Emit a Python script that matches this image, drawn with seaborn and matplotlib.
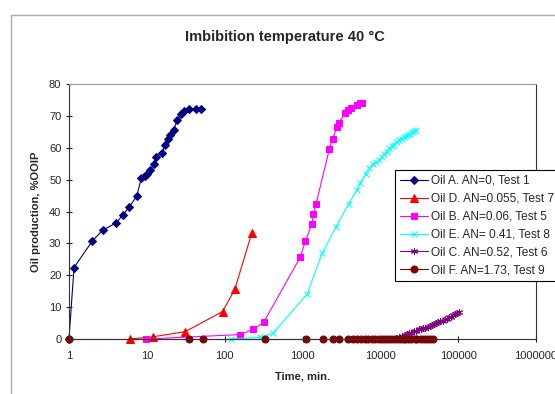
import numpy as np
import pandas as pd
import matplotlib
matplotlib.use("Agg")
import matplotlib.pyplot as plt
import matplotlib.patches as mpatches
import seaborn as sns

title = "Imbibition temperature 40 °C"
xlabel = "Time, min."
ylabel = "Oil production, %OOIP"

labels = ["Oil A. AN=0, Test 1", "Oil D. AN=0.055, Test 7", "Oil B. AN=0.06, Test 5",
          "Oil E. AN= 0.41, Test 8", "Oil C. AN=0.52, Test 6", "Oil F. AN=1.73, Test 9"]

a_t = [1, 1.16, 2.0, 2.7, 4.0, 4.9, 5.9, 7.4, 8.5, 9.4, 10.1, 10.9, 12.4, 13.3, 15.6, 17.2,
       18.8, 20.1, 22.2, 24.5, 27.5, 30.4, 35.3, 43.4, 50]
a_y = [0, 22.4, 30.8, 34.1, 36.4, 38.8, 41.3, 44.8, 50.4, 51.1, 51.9, 52.9, 54.9, 57.1, 58.5,
       61.0, 62.6, 63.9, 65.7, 68.7, 70.5, 71.6, 72.1, 72.3, 72.3]

d_t = [6.0, 12.1, 31, 94, 135, 222]
d_y = [0, 0.7, 2.3, 8.6, 15.6, 33.1]

b_t = [9.9, 159, 231, 316, 933, 1092, 1318, 1384, 1497, 2218, 2448, 2754, 2924, 3558, 3855,
       4170, 4977, 5500, 5820]
b_y = [0, 1.4, 3.0, 5.2, 25.6, 30.8, 36.1, 39.2, 42.5, 59.7, 62.9, 66.4, 67.9, 70.8, 71.8,
       72.4, 73.4, 73.9, 73.9]

e_t = [119, 281, 417, 1148, 1786, 2705, 3930, 4977, 5500, 6560, 7240, 8000, 8800, 9700,
       10500, 11300, 12100, 13000, 14000, 15000, 16200, 17500, 18800, 20200, 21500, 22400,
       24000, 25500, 27000, 28700]
e_y = [0, 0.5, 1.8, 14.1, 26.9, 35.2, 42.5, 46.7, 49.0, 51.9, 53.5, 54.8, 55.5, 56.1, 57.0,
       58.0, 58.8, 59.8, 60.4, 61.0, 61.8, 62.4, 62.9, 63.3, 63.6, 63.9, 64.3, 64.8, 65.1, 65.5]

c_t = [16000, 17500, 19000, 20500, 22000, 23500, 25000, 27000, 29000, 31000, 33000, 35500,
       38000, 40500, 43000, 46000, 49000, 52000, 55500, 59000, 63000, 67000, 71000, 75500,
       80000, 85000, 90000, 96000, 103000]
c_y = [0.2, 0.5, 0.9, 1.1, 1.6, 1.8, 2.0, 2.5, 2.6, 3.0, 3.1, 3.5, 3.6, 3.9, 4.0, 4.4, 4.6,
       5.0, 5.2, 5.6, 5.8, 6.3, 6.4, 6.8, 7.0, 7.5, 7.7, 8.1, 8.6]

f_t = [1, 35, 52, 331, 1114, 1820, 2450, 2980, 3810, 4400, 5000, 5600, 6300, 7000, 7800,
       8600, 9500, 10500, 11500, 12600, 13800, 15000, 16500, 18000, 19500, 21000, 23000,
       25000, 27500, 30000, 33000, 36500, 40000, 43500, 46800]
f_y = [0] * len(f_t)

xticks = [1, 10, 100, 1000, 10000, 100000, 1000000]
xticklabels = ["1", "10", "100", "1000", "10000", "100000", "1000000"]
yticks = [0, 10, 20, 30, 40, 50, 60, 70, 80]

sns.set_theme(style="white")
plt.rcParams["font.family"] = ["Liberation Sans", "DejaVu Sans"]

fig = plt.figure(figsize=(5.55, 3.94), dpi=100)
ax = fig.add_axes([69 / 555, 1 - 339 / 394, (536 - 69) / 555, (339 - 84) / 394])

series = [
    (a_t, a_y, "#000080", "D", 4.2, 0.8),
    (d_t, d_y, "#FF0000", "^", 6, 0.8),
    (b_t, b_y, "#FF00FF", "s", 5, 0.8),
    (e_t, e_y, "#00FFFF", "x", 5, 0.8),
    (c_t, c_y, "#800080", (6, 2, 0), 5, 0.8),
    (f_t, f_y, "#800000", "o", 5, 0.8),
]
for (t, y, col, mk, ms, lw), lab in zip(series, labels):
    df = pd.DataFrame({"t": t, "y": y})
    sns.lineplot(data=df, x="t", y="y", ax=ax, color=col, marker=mk, markersize=ms,
                 markeredgecolor=col, markerfacecolor=col, linewidth=lw, label=lab,
                 estimator=None, sort=False, clip_on=False)

ax.set_xscale("log")
ax.set_xlim(1, 1000000)
ax.set_ylim(0, 80)
ax.set_xticks(xticks)
ax.set_xticklabels(xticklabels)
ax.minorticks_off()
ax.set_yticks(yticks)
ax.tick_params(axis="both", which="major", direction="inout", length=5, width=0.8,
               labelsize=8, color="#222222", pad=3, bottom=True, left=True)
ax.tick_params(axis="x", pad=6)
ax.set_xlabel(xlabel, fontsize=8, fontweight="bold", labelpad=8)
ax.set_ylabel(ylabel, fontsize=8, fontweight="bold", labelpad=6)

for s in ["left", "bottom", "right"]:
    ax.spines[s].set_color("#333333")
    ax.spines[s].set_linewidth(0.8)
ax.spines["top"].set_color("#999999")
ax.spines["top"].set_linewidth(0.8)

fig.text(285 / 555, 1 - 37 / 394, title, ha="center", va="center", fontsize=10.5,
         fontweight="bold")

leg = ax.legend(loc="upper left", bbox_to_anchor=(395 / 555, 1 - 170 / 394),
                bbox_transform=fig.transFigure, fontsize=8.6, frameon=True, fancybox=False,
                framealpha=1, edgecolor="#000000", borderpad=0.4, labelspacing=0.5,
                handlelength=2.4, handletextpad=0.2, borderaxespad=0)
leg.get_frame().set_linewidth(0.8)

border = mpatches.Rectangle((11 / 555, -0.1), 2, 1 - 15 / 394 + 0.1, transform=fig.transFigure,
                            fill=False, edgecolor="#aaaaaa", linewidth=1, clip_on=False)
fig.patches.append(border)

fig.savefig("out.png", dpi=100)
